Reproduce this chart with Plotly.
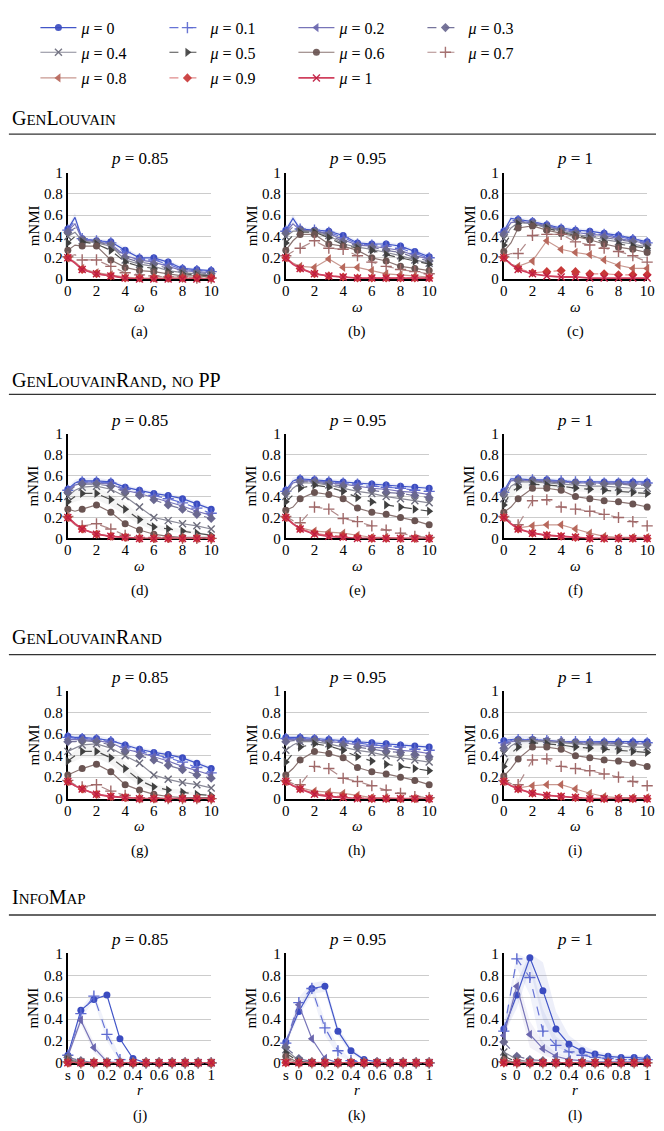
import plotly.graph_objects as go

W, H = 664, 1131
FONT = "Liberation Serif, serif"

# ---------------------------------------------------------------- data
MU = [0, 0.1, 0.2, 0.3, 0.4, 0.5, 0.6, 0.7, 0.8, 0.9, 1]
OMEGA = [0, 0.5, 1, 2, 3, 4, 5, 6, 7, 8, 9, 10]
R_VALUES = [-0.1, 0, 0.1, 0.2, 0.3, 0.4, 0.5, 0.6, 0.7, 0.8, 0.9, 1.0]
R_TICKVALS = [-0.1, 0, 0.2, 0.4, 0.6, 0.8, 1.0]
R_TICKTEXT = ["s", "0", "0.2", "0.4", "0.6", "0.8", "1"]
OMEGA_TICKS = [0, 2, 4, 6, 8, 10]

# GenLouvain, one row per mu
GL_085 = [
    [0.47, 0.58, 0.38, 0.36, 0.35, 0.27, 0.20, 0.20, 0.16, 0.10, 0.09, 0.08],
    [0.46, 0.55, 0.38, 0.36, 0.34, 0.25, 0.19, 0.18, 0.14, 0.09, 0.08, 0.07],
    [0.45, 0.52, 0.37, 0.35, 0.33, 0.22, 0.18, 0.16, 0.12, 0.08, 0.07, 0.06],
    [0.44, 0.48, 0.37, 0.35, 0.32, 0.20, 0.16, 0.14, 0.10, 0.07, 0.06, 0.05],
    [0.40, 0.44, 0.36, 0.34, 0.31, 0.18, 0.14, 0.12, 0.08, 0.06, 0.05, 0.04],
    [0.34, 0.40, 0.35, 0.33, 0.27, 0.16, 0.12, 0.10, 0.07, 0.05, 0.04, 0.03],
    [0.27, 0.32, 0.31, 0.31, 0.18, 0.11, 0.08, 0.07, 0.05, 0.03, 0.03, 0.02],
    [0.21, 0.23, 0.18, 0.18, 0.12, 0.06, 0.04, 0.03, 0.02, 0.02, 0.01, 0.01],
    [0.20, 0.16, 0.10, 0.06, 0.04, 0.02, 0.01, 0.01, 0.01, 0.01, 0.01, 0.01],
    [0.20, 0.15, 0.09, 0.05, 0.03, 0.01, 0.01, 0.01, 0.01, 0.01, 0.01, 0.01],
    [0.20, 0.15, 0.09, 0.05, 0.03, 0.01, 0.00, 0.00, 0.00, 0.00, 0.00, 0.00],
]
GL_095 = [
    [0.46, 0.57, 0.47, 0.46, 0.45, 0.41, 0.34, 0.33, 0.33, 0.31, 0.26, 0.21],
    [0.45, 0.55, 0.47, 0.46, 0.44, 0.39, 0.33, 0.32, 0.31, 0.29, 0.24, 0.20],
    [0.44, 0.52, 0.46, 0.45, 0.43, 0.37, 0.32, 0.31, 0.29, 0.27, 0.22, 0.19],
    [0.43, 0.49, 0.46, 0.45, 0.42, 0.35, 0.31, 0.30, 0.27, 0.25, 0.20, 0.17],
    [0.40, 0.45, 0.45, 0.44, 0.41, 0.33, 0.30, 0.28, 0.25, 0.22, 0.18, 0.15],
    [0.34, 0.41, 0.44, 0.44, 0.39, 0.32, 0.29, 0.27, 0.23, 0.20, 0.17, 0.14],
    [0.27, 0.36, 0.42, 0.42, 0.33, 0.31, 0.27, 0.20, 0.17, 0.12, 0.10, 0.08],
    [0.22, 0.26, 0.29, 0.36, 0.29, 0.28, 0.22, 0.16, 0.12, 0.09, 0.07, 0.05],
    [0.20, 0.15, 0.12, 0.11, 0.19, 0.11, 0.11, 0.08, 0.05, 0.04, 0.03, 0.02],
    [0.20, 0.14, 0.10, 0.05, 0.03, 0.02, 0.01, 0.01, 0.01, 0.01, 0.01, 0.01],
    [0.20, 0.14, 0.10, 0.05, 0.03, 0.02, 0.01, 0.01, 0.01, 0.01, 0.01, 0.01],
]
GL_100 = [
    [0.45, 0.57, 0.56, 0.54, 0.51, 0.48, 0.46, 0.45, 0.43, 0.41, 0.38, 0.35],
    [0.44, 0.55, 0.55, 0.53, 0.50, 0.47, 0.45, 0.43, 0.42, 0.40, 0.37, 0.34],
    [0.43, 0.53, 0.54, 0.53, 0.50, 0.46, 0.44, 0.42, 0.41, 0.38, 0.36, 0.33],
    [0.42, 0.51, 0.54, 0.52, 0.49, 0.46, 0.43, 0.41, 0.39, 0.37, 0.35, 0.32],
    [0.38, 0.48, 0.53, 0.52, 0.48, 0.45, 0.42, 0.40, 0.37, 0.35, 0.33, 0.30],
    [0.32, 0.42, 0.52, 0.51, 0.48, 0.44, 0.41, 0.38, 0.35, 0.33, 0.31, 0.29],
    [0.26, 0.34, 0.48, 0.50, 0.46, 0.43, 0.40, 0.37, 0.33, 0.30, 0.28, 0.25],
    [0.21, 0.24, 0.24, 0.41, 0.42, 0.42, 0.35, 0.32, 0.29, 0.26, 0.22, 0.16],
    [0.20, 0.14, 0.12, 0.17, 0.36, 0.28, 0.25, 0.23, 0.18, 0.13, 0.10, 0.10],
    [0.20, 0.14, 0.10, 0.06, 0.07, 0.08, 0.07, 0.05, 0.05, 0.04, 0.04, 0.04],
    [0.20, 0.14, 0.09, 0.05, 0.03, 0.02, 0.02, 0.01, 0.01, 0.01, 0.01, 0.01],
]

# GenLouvainRand without post-processing
GLRN_085 = [
    [0.47, 0.53, 0.55, 0.55, 0.54, 0.49, 0.46, 0.43, 0.41, 0.38, 0.33, 0.28],
    [0.46, 0.52, 0.54, 0.54, 0.53, 0.47, 0.44, 0.41, 0.38, 0.34, 0.29, 0.24],
    [0.45, 0.51, 0.53, 0.53, 0.52, 0.46, 0.43, 0.39, 0.35, 0.31, 0.26, 0.22],
    [0.44, 0.50, 0.52, 0.52, 0.50, 0.44, 0.41, 0.37, 0.32, 0.28, 0.23, 0.19],
    [0.40, 0.46, 0.49, 0.50, 0.47, 0.40, 0.30, 0.20, 0.17, 0.14, 0.12, 0.09],
    [0.35, 0.40, 0.43, 0.43, 0.37, 0.28, 0.18, 0.11, 0.09, 0.07, 0.05, 0.03],
    [0.28, 0.26, 0.28, 0.32, 0.25, 0.14, 0.08, 0.04, 0.02, 0.01, 0.01, 0.01],
    [0.21, 0.14, 0.12, 0.14, 0.09, 0.03, 0.01, 0.01, 0.01, 0.00, 0.00, 0.00],
    [0.20, 0.13, 0.09, 0.04, 0.02, 0.01, 0.00, 0.00, 0.00, 0.00, 0.00, 0.00],
    [0.20, 0.13, 0.09, 0.04, 0.02, 0.01, 0.00, 0.00, 0.00, 0.00, 0.00, 0.00],
    [0.20, 0.14, 0.09, 0.04, 0.02, 0.01, 0.00, 0.00, 0.00, 0.00, 0.00, 0.00],
]
GLRN_095 = [
    [0.46, 0.55, 0.57, 0.56, 0.55, 0.54, 0.53, 0.52, 0.51, 0.50, 0.49, 0.48],
    [0.45, 0.54, 0.56, 0.55, 0.54, 0.53, 0.52, 0.50, 0.49, 0.48, 0.46, 0.45],
    [0.44, 0.53, 0.55, 0.55, 0.53, 0.52, 0.50, 0.48, 0.47, 0.45, 0.44, 0.42],
    [0.43, 0.52, 0.54, 0.54, 0.52, 0.50, 0.48, 0.46, 0.44, 0.43, 0.41, 0.39],
    [0.40, 0.48, 0.53, 0.53, 0.51, 0.48, 0.45, 0.43, 0.40, 0.38, 0.36, 0.34],
    [0.35, 0.42, 0.48, 0.51, 0.49, 0.45, 0.39, 0.35, 0.32, 0.30, 0.28, 0.26],
    [0.27, 0.30, 0.38, 0.44, 0.42, 0.38, 0.29, 0.25, 0.23, 0.20, 0.17, 0.13],
    [0.21, 0.17, 0.15, 0.30, 0.28, 0.19, 0.16, 0.12, 0.08, 0.05, 0.02, 0.01],
    [0.20, 0.14, 0.10, 0.07, 0.06, 0.05, 0.03, 0.01, 0.01, 0.00, 0.00, 0.00],
    [0.20, 0.14, 0.09, 0.05, 0.03, 0.02, 0.01, 0.00, 0.00, 0.00, 0.00, 0.00],
    [0.20, 0.14, 0.09, 0.04, 0.02, 0.01, 0.00, 0.00, 0.00, 0.00, 0.00, 0.00],
]
GLRN_100 = [
    [0.45, 0.57, 0.57, 0.56, 0.56, 0.55, 0.54, 0.54, 0.54, 0.54, 0.54, 0.54],
    [0.44, 0.56, 0.56, 0.56, 0.55, 0.55, 0.54, 0.54, 0.53, 0.53, 0.53, 0.53],
    [0.43, 0.55, 0.56, 0.55, 0.55, 0.54, 0.53, 0.53, 0.53, 0.53, 0.52, 0.52],
    [0.42, 0.53, 0.55, 0.55, 0.54, 0.53, 0.53, 0.52, 0.52, 0.52, 0.51, 0.51],
    [0.38, 0.50, 0.54, 0.54, 0.53, 0.52, 0.51, 0.50, 0.50, 0.49, 0.48, 0.48],
    [0.32, 0.44, 0.49, 0.52, 0.51, 0.50, 0.48, 0.47, 0.46, 0.45, 0.44, 0.43],
    [0.25, 0.30, 0.38, 0.48, 0.48, 0.46, 0.40, 0.38, 0.36, 0.35, 0.33, 0.30],
    [0.21, 0.16, 0.13, 0.36, 0.37, 0.30, 0.28, 0.26, 0.23, 0.20, 0.16, 0.12],
    [0.20, 0.14, 0.10, 0.12, 0.13, 0.13, 0.09, 0.05, 0.02, 0.01, 0.01, 0.01],
    [0.20, 0.14, 0.09, 0.05, 0.03, 0.02, 0.01, 0.00, 0.00, 0.00, 0.00, 0.00],
    [0.20, 0.14, 0.09, 0.05, 0.03, 0.02, 0.01, 0.00, 0.00, 0.00, 0.00, 0.00],
]

# GenLouvainRand
GLR_085 = [
    [0.58, 0.57, 0.57, 0.56, 0.54, 0.50, 0.46, 0.43, 0.41, 0.38, 0.33, 0.28],
    [0.57, 0.56, 0.56, 0.55, 0.53, 0.48, 0.44, 0.41, 0.38, 0.34, 0.29, 0.24],
    [0.55, 0.55, 0.55, 0.54, 0.52, 0.46, 0.43, 0.39, 0.35, 0.30, 0.26, 0.22],
    [0.53, 0.53, 0.54, 0.53, 0.50, 0.44, 0.40, 0.36, 0.31, 0.27, 0.22, 0.19],
    [0.44, 0.47, 0.50, 0.51, 0.47, 0.40, 0.33, 0.22, 0.18, 0.15, 0.13, 0.10],
    [0.35, 0.40, 0.44, 0.44, 0.38, 0.28, 0.17, 0.11, 0.08, 0.06, 0.04, 0.03],
    [0.22, 0.25, 0.28, 0.32, 0.25, 0.13, 0.08, 0.04, 0.02, 0.01, 0.01, 0.01],
    [0.17, 0.13, 0.11, 0.13, 0.07, 0.03, 0.01, 0.01, 0.00, 0.00, 0.00, 0.00],
    [0.16, 0.12, 0.09, 0.04, 0.02, 0.01, 0.00, 0.00, 0.00, 0.00, 0.00, 0.00],
    [0.16, 0.12, 0.09, 0.04, 0.02, 0.01, 0.00, 0.00, 0.00, 0.00, 0.00, 0.00],
    [0.16, 0.12, 0.09, 0.04, 0.02, 0.01, 0.00, 0.00, 0.00, 0.00, 0.00, 0.00],
]
GLR_095 = [
    [0.57, 0.57, 0.57, 0.56, 0.55, 0.54, 0.53, 0.52, 0.51, 0.50, 0.49, 0.48],
    [0.56, 0.56, 0.56, 0.55, 0.54, 0.53, 0.52, 0.50, 0.49, 0.48, 0.46, 0.45],
    [0.55, 0.55, 0.55, 0.55, 0.53, 0.52, 0.50, 0.48, 0.47, 0.45, 0.44, 0.42],
    [0.53, 0.54, 0.54, 0.54, 0.52, 0.50, 0.48, 0.46, 0.44, 0.43, 0.41, 0.39],
    [0.45, 0.50, 0.53, 0.53, 0.51, 0.48, 0.45, 0.43, 0.40, 0.38, 0.36, 0.34],
    [0.34, 0.42, 0.48, 0.51, 0.49, 0.45, 0.39, 0.35, 0.32, 0.30, 0.28, 0.26],
    [0.22, 0.28, 0.36, 0.44, 0.42, 0.38, 0.29, 0.25, 0.23, 0.20, 0.17, 0.13],
    [0.17, 0.14, 0.13, 0.30, 0.28, 0.19, 0.16, 0.12, 0.08, 0.05, 0.02, 0.01],
    [0.16, 0.12, 0.10, 0.07, 0.06, 0.05, 0.03, 0.01, 0.01, 0.00, 0.00, 0.00],
    [0.16, 0.12, 0.09, 0.05, 0.03, 0.02, 0.01, 0.00, 0.00, 0.00, 0.00, 0.00],
    [0.16, 0.12, 0.09, 0.04, 0.02, 0.01, 0.00, 0.00, 0.00, 0.00, 0.00, 0.00],
]
GLR_100 = [
    [0.54, 0.55, 0.55, 0.55, 0.54, 0.53, 0.53, 0.53, 0.53, 0.53, 0.53, 0.53],
    [0.52, 0.54, 0.55, 0.55, 0.54, 0.53, 0.53, 0.53, 0.52, 0.52, 0.52, 0.52],
    [0.50, 0.53, 0.54, 0.54, 0.54, 0.53, 0.52, 0.52, 0.52, 0.52, 0.51, 0.51],
    [0.47, 0.52, 0.54, 0.54, 0.53, 0.53, 0.52, 0.51, 0.51, 0.51, 0.50, 0.50],
    [0.42, 0.49, 0.53, 0.54, 0.53, 0.52, 0.51, 0.50, 0.50, 0.49, 0.48, 0.48],
    [0.30, 0.42, 0.48, 0.52, 0.51, 0.50, 0.48, 0.47, 0.46, 0.45, 0.44, 0.43],
    [0.21, 0.28, 0.37, 0.48, 0.48, 0.46, 0.40, 0.38, 0.36, 0.35, 0.33, 0.30],
    [0.17, 0.14, 0.13, 0.36, 0.37, 0.30, 0.28, 0.26, 0.23, 0.20, 0.16, 0.12],
    [0.16, 0.12, 0.10, 0.12, 0.13, 0.13, 0.09, 0.05, 0.02, 0.01, 0.01, 0.01],
    [0.16, 0.12, 0.09, 0.05, 0.03, 0.02, 0.01, 0.00, 0.00, 0.00, 0.00, 0.00],
    [0.16, 0.12, 0.09, 0.05, 0.03, 0.02, 0.01, 0.00, 0.00, 0.00, 0.00, 0.00],
]

# InfoMap, x = relax rate r ("s" = single-layer start)
IM_085 = [
    [0.07, 0.48, 0.58, 0.62, 0.22, 0.04, 0.00, 0.00, 0.00, 0.00, 0.00, 0.00],
    [0.07, 0.45, 0.61, 0.26, 0.03, 0.00, 0.00, 0.00, 0.00, 0.00, 0.00, 0.00],
    [0.06, 0.39, 0.14, 0.01, 0.00, 0.00, 0.00, 0.00, 0.00, 0.00, 0.00, 0.00],
    [0.05, 0.02, 0.00, 0.00, 0.00, 0.00, 0.00, 0.00, 0.00, 0.00, 0.00, 0.00],
    [0.04, 0.01, 0.00, 0.00, 0.00, 0.00, 0.00, 0.00, 0.00, 0.00, 0.00, 0.00],
    [0.03, 0.00, 0.00, 0.00, 0.00, 0.00, 0.00, 0.00, 0.00, 0.00, 0.00, 0.00],
    [0.02, 0.00, 0.00, 0.00, 0.00, 0.00, 0.00, 0.00, 0.00, 0.00, 0.00, 0.00],
    [0.01, 0.00, 0.00, 0.00, 0.00, 0.00, 0.00, 0.00, 0.00, 0.00, 0.00, 0.00],
    [0.00, 0.00, 0.00, 0.00, 0.00, 0.00, 0.00, 0.00, 0.00, 0.00, 0.00, 0.00],
    [0.00, 0.00, 0.00, 0.00, 0.00, 0.00, 0.00, 0.00, 0.00, 0.00, 0.00, 0.00],
    [0.00, 0.00, 0.00, 0.00, 0.00, 0.00, 0.00, 0.00, 0.00, 0.00, 0.00, 0.00],
]
IM_095 = [
    [0.19, 0.47, 0.68, 0.70, 0.29, 0.11, 0.03, 0.01, 0.00, 0.00, 0.00, 0.00],
    [0.18, 0.55, 0.68, 0.32, 0.11, 0.02, 0.00, 0.00, 0.00, 0.00, 0.00, 0.00],
    [0.16, 0.53, 0.22, 0.04, 0.00, 0.00, 0.00, 0.00, 0.00, 0.00, 0.00, 0.00],
    [0.14, 0.04, 0.01, 0.00, 0.00, 0.00, 0.00, 0.00, 0.00, 0.00, 0.00, 0.00],
    [0.12, 0.02, 0.00, 0.00, 0.00, 0.00, 0.00, 0.00, 0.00, 0.00, 0.00, 0.00],
    [0.09, 0.01, 0.00, 0.00, 0.00, 0.00, 0.00, 0.00, 0.00, 0.00, 0.00, 0.00],
    [0.06, 0.00, 0.00, 0.00, 0.00, 0.00, 0.00, 0.00, 0.00, 0.00, 0.00, 0.00],
    [0.03, 0.00, 0.00, 0.00, 0.00, 0.00, 0.00, 0.00, 0.00, 0.00, 0.00, 0.00],
    [0.01, 0.00, 0.00, 0.00, 0.00, 0.00, 0.00, 0.00, 0.00, 0.00, 0.00, 0.00],
    [0.00, 0.00, 0.00, 0.00, 0.00, 0.00, 0.00, 0.00, 0.00, 0.00, 0.00, 0.00],
    [0.00, 0.00, 0.00, 0.00, 0.00, 0.00, 0.00, 0.00, 0.00, 0.00, 0.00, 0.00],
]
IM_100 = [
    [0.31, 0.62, 0.96, 0.66, 0.31, 0.17, 0.11, 0.08, 0.06, 0.05, 0.05, 0.04],
    [0.29, 0.95, 0.78, 0.29, 0.16, 0.10, 0.07, 0.05, 0.04, 0.03, 0.03, 0.03],
    [0.25, 0.70, 0.26, 0.13, 0.06, 0.03, 0.02, 0.01, 0.01, 0.01, 0.01, 0.01],
    [0.19, 0.06, 0.03, 0.02, 0.01, 0.00, 0.00, 0.00, 0.00, 0.00, 0.00, 0.00],
    [0.10, 0.03, 0.01, 0.00, 0.00, 0.00, 0.00, 0.00, 0.00, 0.00, 0.00, 0.00],
    [0.06, 0.01, 0.00, 0.00, 0.00, 0.00, 0.00, 0.00, 0.00, 0.00, 0.00, 0.00],
    [0.03, 0.00, 0.00, 0.00, 0.00, 0.00, 0.00, 0.00, 0.00, 0.00, 0.00, 0.00],
    [0.01, 0.00, 0.00, 0.00, 0.00, 0.00, 0.00, 0.00, 0.00, 0.00, 0.00, 0.00],
    [0.01, 0.00, 0.00, 0.00, 0.00, 0.00, 0.00, 0.00, 0.00, 0.00, 0.00, 0.00],
    [0.00, 0.00, 0.00, 0.00, 0.00, 0.00, 0.00, 0.00, 0.00, 0.00, 0.00, 0.00],
    [0.00, 0.00, 0.00, 0.00, 0.00, 0.00, 0.00, 0.00, 0.00, 0.00, 0.00, 0.00],
]

# standard-deviation half widths for the shaded bands: (panel, mu index, spread)
SPREADS = [
    ("GL_085", 0, [0.02, 0.04, 0.02, 0.02, 0.02, 0.03, 0.02, 0.02, 0.02, 0.02, 0.01, 0.01]),
    ("GL_095", 0, [0.02, 0.04, 0.02, 0.02, 0.02, 0.02, 0.02, 0.02, 0.02, 0.02, 0.02, 0.02]),
    ("GL_100", 0, [0.02, 0.03, 0.02, 0.02, 0.02, 0.02, 0.02, 0.02, 0.02, 0.02, 0.02, 0.02]),
    ("GLRN_085", 0, [0.02, 0.03, 0.03, 0.03, 0.02, 0.02, 0.02, 0.02, 0.02, 0.02, 0.02, 0.02]),
    ("GLRN_085", 5, [0.03, 0.05, 0.06, 0.06, 0.06, 0.06, 0.05, 0.03, 0.02, 0.02, 0.01, 0.01]),
    ("GLRN_095", 0, [0.02, 0.03, 0.03, 0.02, 0.02, 0.02, 0.02, 0.02, 0.02, 0.02, 0.02, 0.02]),
    ("GLRN_100", 0, [0.02, 0.03, 0.04, 0.03, 0.02, 0.02, 0.02, 0.02, 0.02, 0.02, 0.02, 0.02]),
    ("GLRN_100", 5, [0.03, 0.05, 0.04, 0.03, 0.03, 0.03, 0.03, 0.03, 0.03, 0.03, 0.03, 0.03]),
    ("GLR_085", 0, [0.03, 0.03, 0.03, 0.03, 0.02, 0.02, 0.02, 0.02, 0.02, 0.02, 0.02, 0.02]),
    ("GLR_085", 5, [0.03, 0.05, 0.06, 0.06, 0.06, 0.06, 0.05, 0.03, 0.02, 0.02, 0.01, 0.01]),
    ("GLR_095", 0, [0.02, 0.02, 0.02, 0.02, 0.02, 0.02, 0.02, 0.02, 0.02, 0.02, 0.02, 0.02]),
    ("GLR_100", 0, [0.02, 0.03, 0.04, 0.03, 0.02, 0.02, 0.02, 0.02, 0.02, 0.02, 0.02, 0.02]),
    ("GLR_100", 5, [0.03, 0.05, 0.04, 0.03, 0.03, 0.03, 0.03, 0.03, 0.03, 0.03, 0.03, 0.03]),
    ("IM_085", 1, [0.02, 0.05, 0.04, 0.06, 0.03, 0.01, 0.00, 0.00, 0.00, 0.00, 0.00, 0.00]),
    ("IM_085", 2, [0.02, 0.04, 0.05, 0.02, 0.00, 0.00, 0.00, 0.00, 0.00, 0.00, 0.00, 0.00]),
    ("IM_095", 0, [0.03, 0.04, 0.05, 0.05, 0.04, 0.03, 0.01, 0.00, 0.00, 0.00, 0.00, 0.00]),
    ("IM_095", 1, [0.03, 0.05, 0.05, 0.07, 0.04, 0.01, 0.00, 0.00, 0.00, 0.00, 0.00, 0.00]),
    ("IM_100", 0, [0.05, 0.12, 0.10, 0.26, 0.16, 0.08, 0.05, 0.03, 0.02, 0.02, 0.02, 0.02]),
    ("IM_100", 1, [0.05, 0.08, 0.16, 0.20, 0.08, 0.05, 0.03, 0.02, 0.02, 0.02, 0.02, 0.02]),
    ("IM_100", 2, [0.04, 0.10, 0.12, 0.06, 0.03, 0.02, 0.01, 0.01, 0.01, 0.01, 0.01, 0.01]),
]

PANELS = {
    "GL_085": GL_085, "GL_095": GL_095, "GL_100": GL_100,
    "GLRN_085": GLRN_085, "GLRN_095": GLRN_095, "GLRN_100": GLRN_100,
    "GLR_085": GLR_085, "GLR_095": GLR_095, "GLR_100": GLR_100,
    "IM_085": IM_085, "IM_095": IM_095, "IM_100": IM_100,
}
PANEL_ORDER = ["GL_085", "GL_095", "GL_100",
               "GLRN_085", "GLRN_095", "GLRN_100",
               "GLR_085", "GLR_095", "GLR_100",
               "IM_085", "IM_095", "IM_100"]
P_TITLES = ["<i>p</i> = 0.85", "<i>p</i> = 0.95", "<i>p</i> = 1"]
PANEL_LETTERS = "abcdefghijkl"

# ---------------------------------------------------------------- styles
LINE_COLORS = ["#4256c8", "#6673d6", "#7774b8", "#76749c", "#8a8a98", "#4e4e4e",
               "#8a7472", "#b08a8a", "#c89890", "#e08c8c", "#d0405e"]
MARKER_COLORS = ["#3b4cc0", "#5d6ad0", "#6a66ae", "#6a6890", "#6c6c7c", "#404040",
                 "#6a5452", "#a06868", "#b8685c", "#c83838", "#c01c40"]
DASHES = ["solid", "dash", "solid", "dash", "solid", "dash",
          "solid", "dash", "solid", "dash", "solid"]
SYMBOLS = ["circle", "cross-thin", "triangle-left", "diamond", "x-thin",
           "triangle-right", "circle", "cross-thin", "triangle-left", "diamond", "x-thin"]
SIZES = [7, 8, 8, 7, 7, 8, 7, 8, 8, 7, 7]
WIDTHS = [1.2, 1.2, 1.2, 1.2, 1.2, 1.2, 1.2, 1.2, 1.2, 1.2, 1.8]

# ---------------------------------------------------------------- geometry (px)
COL_X = [(65, 211), (287, 433), (509, 655)]
ROW_Y = [(167, 275), (432, 538), (693, 802), (959, 1070)]
HEAD_Y = [112, 377, 638, 902]
RULE_Y = [128, 392, 656, 920]
SC = "<span style='font-size:15px'>{}</span>"
HEADINGS = [
    "G" + SC.format("EN") + "L" + SC.format("OUVAIN"),
    "G" + SC.format("EN") + "L" + SC.format("OUVAIN") + "R" + SC.format("AND")
    + ", " + SC.format("NO") + " PP",
    "G" + SC.format("EN") + "L" + SC.format("OUVAIN") + "R" + SC.format("AND"),
    "I" + SC.format("NFO") + "M" + SC.format("AP"),
]


def fx(px):
    return px / W


def fy(py):
    return 1 - py / H


def rgba(hex_color, alpha):
    h = hex_color.lstrip("#")
    r, g, b = int(h[0:2], 16), int(h[2:4], 16), int(h[4:6], 16)
    return f"rgba({r},{g},{b},{alpha})"


fig = go.Figure()
layout = dict(
    width=W, height=H,
    margin=dict(l=0, r=0, t=0, b=0),
    paper_bgcolor="white", plot_bgcolor="white",
    font=dict(family=FONT, size=15, color="black"),
    annotations=[], shapes=[],
)

for k, name in enumerate(PANEL_ORDER):
    row, col = divmod(k, 3)
    suffix = "" if k == 0 else str(k + 1)
    xref, yref = "x" + suffix, "y" + suffix
    x0, x1 = COL_X[col]
    y0, y1 = ROW_Y[row]
    infomap = row == 3
    xs = R_VALUES if infomap else OMEGA
    # intermediate omega=0.5 sample carries no marker
    mk_opacity = [1] * len(xs) if infomap else [1 if v == int(v) else 0 for v in xs]

    xaxis = dict(
        domain=[fx(x0), fx(x1)], anchor=yref,
        range=[-0.1, 1.0] if infomap else [0, 10],
        showgrid=False, zeroline=False,
        showline=True, linecolor="black", linewidth=2,
        layer="below traces",
        tickfont=dict(family=FONT, size=15),
        ticklabelstandoff=-3,
        fixedrange=True,
    )
    if infomap:
        xaxis.update(tickvals=R_TICKVALS, ticktext=R_TICKTEXT,
                     ticks="inside", ticklen=4, tickcolor="#999999", tickwidth=1,
                     minor=dict(tickvals=[0.1, 0.3, 0.5, 0.7, 0.9], ticks="inside",
                                ticklen=4, tickcolor="#999999", tickwidth=1))
    else:
        xaxis.update(tickvals=OMEGA_TICKS, ticks="")
    yaxis = dict(
        domain=[fy(y1), fy(y0)], anchor=xref,
        range=[0, 1],
        tickvals=[0, 0.2, 0.4, 0.6, 0.8, 1.0],
        ticktext=["0", "0.2", "0.4", "0.6", "0.8", "1"],
        showgrid=True, gridcolor="#cccccc", gridwidth=1.4,
        zeroline=False,
        showline=True, linecolor="black", linewidth=2,
        layer="below traces", ticks="",
        tickfont=dict(family=FONT, size=15),
        fixedrange=True,
    )
    layout["xaxis" + suffix] = xaxis
    layout["yaxis" + suffix] = yaxis

    series = PANELS[name]

    # shaded spread bands
    for pname, mi, spread in SPREADS:
        if pname != name:
            continue
        ys = series[mi]
        upper = [min(1.0, v + s) for v, s in zip(ys, spread)]
        lower = [max(0.0, v - s) for v, s in zip(ys, spread)]
        fig.add_trace(go.Scatter(
            x=list(xs) + list(xs)[::-1], y=upper + lower[::-1],
            xaxis=xref, yaxis=yref, mode="lines", fill="toself",
            fillcolor=rgba(MARKER_COLORS[mi], 0.09 if mi == 0 or infomap else 0.06),
            line=dict(width=0),
            hoverinfo="skip", showlegend=False,
        ))

    for i, mu in enumerate(MU):
        thin = SYMBOLS[i].endswith("-thin")
        fig.add_trace(go.Scatter(
            x=xs, y=series[i], xaxis=xref, yaxis=yref,
            mode="lines+markers", cliponaxis=False,
            name=f"<i>μ</i> = {mu:g}",
            legend=["legend", "legend2", "legend3"][i // 4],
            showlegend=(k == 0),
            line=dict(color=LINE_COLORS[i], width=WIDTHS[i], dash=DASHES[i]),
            marker=dict(symbol=SYMBOLS[i], size=SIZES[i], color=MARKER_COLORS[i],
                        opacity=mk_opacity,
                        line=dict(width=1.4 if thin else 0, color=MARKER_COLORS[i])),
        ))

    cx = (x0 + x1) / 2
    ann = layout["annotations"]
    ann.append(dict(text=P_TITLES[col], x=fx(cx), y=fy(y0 - 14), xref="paper", yref="paper",
                    showarrow=False, font=dict(size=17), xanchor="center", yanchor="middle"))
    ann.append(dict(text="mNMI", x=fx(x0 - 35), y=fy((y0 + y1) / 2), xref="paper", yref="paper",
                    showarrow=False, textangle=-90, font=dict(size=15),
                    xanchor="center", yanchor="middle"))
    ann.append(dict(text="<i>r</i>" if infomap else "<i>ω</i>", x=fx(cx), y=fy(y1 + 28),
                    xref="paper", yref="paper", showarrow=False, font=dict(size=15),
                    xanchor="center", yanchor="middle"))
    ann.append(dict(text=f"({PANEL_LETTERS[k]})", x=fx(cx), y=fy(y1 + 53),
                    xref="paper", yref="paper", showarrow=False, font=dict(size=15),
                    xanchor="center", yanchor="middle"))

for hy, ry, text in zip(HEAD_Y, RULE_Y, HEADINGS):
    layout["annotations"].append(dict(text=text, x=fx(6), y=fy(hy), xref="paper", yref="paper",
                                      showarrow=False, font=dict(size=20),
                                      xanchor="left", yanchor="middle"))
    layout["shapes"].append(dict(type="line", xref="paper", yref="paper",
                                 x0=fx(5), x1=1, y0=fy(ry), y1=fy(ry),
                                 line=dict(color="#333333", width=1.3)))

legend_style = dict(orientation="h", xanchor="left", yanchor="middle",
                    x=fx(32), entrywidth=78, entrywidthmode="pixels", itemwidth=36,
                    font=dict(family=FONT, size=16), bgcolor="rgba(0,0,0,0)",
                    tracegroupgap=0, itemclick=False, itemdoubleclick=False)
layout["legend"] = dict(legend_style, y=fy(20))
layout["legend2"] = dict(legend_style, y=fy(45))
layout["legend3"] = dict(legend_style, y=fy(71))

fig.update_layout(**layout)
fig.write_html("out.html")
